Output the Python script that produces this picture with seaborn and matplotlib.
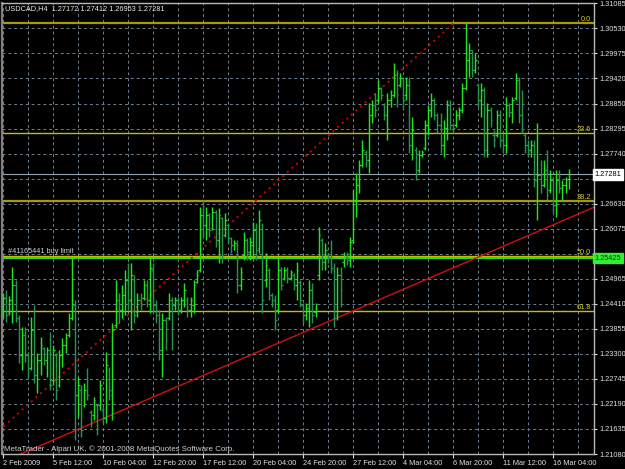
import matplotlib
matplotlib.use("Agg")
import matplotlib.pyplot as plt
import matplotlib.transforms as mtransforms
import numpy as np
import pandas as pd
import seaborn as sns

title_text = "USDCAD,H4  1.27172 1.27412 1.26953 1.27281"
footer_text = "MetaTrader - Alpari UK, \u00a9 2001-2008 MetaQuotes Software Corp."

opens = [
    1.2428, 1.2454, 1.2421, 1.2450, 1.2483, 1.2410, 1.2328, 1.2372, 1.2328, 1.2299,
    1.2383, 1.2283, 1.2317, 1.2343, 1.2317, 1.2339, 1.2272, 1.2328, 1.2261, 1.2328,
    1.2350, 1.2372, 1.2410, 1.2439, 1.2239, 1.2250, 1.2217, 1.2250, 1.2201, 1.2195,
    1.2217, 1.2217, 1.2206, 1.2188, 1.2294, 1.2239, 1.2394, 1.2450, 1.2428, 1.2461,
    1.2494, 1.2450, 1.2494, 1.2423, 1.2450, 1.2454, 1.2483, 1.2450, 1.2516, 1.2439,
    1.2416, 1.2339, 1.2405, 1.2410, 1.2450, 1.2439, 1.2450, 1.2428, 1.2450, 1.2450,
    1.2428, 1.2439, 1.2490, 1.2516, 1.2638, 1.2616, 1.2638, 1.2609, 1.2645, 1.2583,
    1.2632, 1.2594, 1.2616, 1.2587, 1.2572, 1.2572, 1.2483, 1.2550, 1.2583, 1.2556,
    1.2572, 1.2605, 1.2565, 1.2616, 1.2494, 1.2516, 1.2461, 1.2450, 1.2428, 1.2516,
    1.2499, 1.2516, 1.2499, 1.2505, 1.2483, 1.2490, 1.2439, 1.2416, 1.2428, 1.2472,
    1.2423, 1.2505, 1.2583, 1.2534, 1.2550, 1.2543, 1.2516, 1.2416, 1.2505, 1.2534,
    1.2545, 1.2538, 1.2583, 1.2672, 1.2705, 1.2749, 1.2778, 1.2760, 1.2860, 1.2882,
    1.2893, 1.2920, 1.2882, 1.2860, 1.2893, 1.2904, 1.2949, 1.2927, 1.2942, 1.2904,
    1.2927, 1.2794, 1.2782, 1.2738, 1.2771, 1.2787, 1.2838, 1.2871, 1.2893, 1.2860,
    1.2838, 1.2794, 1.2831, 1.2882, 1.2838, 1.2838, 1.2860, 1.2871, 1.2920, 1.2982,
    1.3004, 1.2960, 1.2927, 1.2893, 1.2916, 1.2782, 1.2871, 1.2816, 1.2816, 1.2860,
    1.2805, 1.2794, 1.2882, 1.2867, 1.2898, 1.2938, 1.2860, 1.2816, 1.2794, 1.2782,
    1.2794, 1.2716, 1.2727, 1.2705, 1.2738, 1.2694, 1.2716, 1.2660, 1.2716, 1.2698,
    1.2705, 1.27172,
]
highs = [
    1.2465, 1.2472, 1.2459, 1.2523, 1.2494, 1.2416, 1.2390, 1.2390, 1.2334, 1.2412,
    1.2439, 1.2332, 1.2368, 1.2345, 1.2345, 1.2379, 1.2350, 1.2332, 1.2339, 1.2365,
    1.2376, 1.2421, 1.2545, 1.2450, 1.2279, 1.2261, 1.2266, 1.2299, 1.2206, 1.2234,
    1.2221, 1.2272, 1.2212, 1.2334, 1.2301, 1.2399, 1.2494, 1.2465, 1.2483, 1.2516,
    1.2532, 1.2532, 1.2505, 1.2465, 1.2465, 1.2494, 1.2494, 1.2545, 1.2532, 1.2450,
    1.2428, 1.2421, 1.2412, 1.2465, 1.2456, 1.2456, 1.2456, 1.2456, 1.2487, 1.2456,
    1.2456, 1.2494, 1.2516, 1.2656, 1.2672, 1.2656, 1.2643, 1.2656, 1.2649, 1.2654,
    1.2634, 1.2643, 1.2620, 1.2589, 1.2583, 1.2583, 1.2523, 1.2601, 1.2587, 1.2589,
    1.2623, 1.2620, 1.2649, 1.2620, 1.2554, 1.2521, 1.2465, 1.2461, 1.2545, 1.2523,
    1.2523, 1.2523, 1.2516, 1.2510, 1.2534, 1.2494, 1.2443, 1.2443, 1.2494, 1.2487,
    1.2443, 1.2612, 1.2587, 1.2576, 1.2554, 1.2583, 1.2532, 1.2523, 1.2523, 1.2556,
    1.2556, 1.2589, 1.2694, 1.2731, 1.2760, 1.2805, 1.2782, 1.2887, 1.2893, 1.2909,
    1.2938, 1.2922, 1.2887, 1.2909, 1.2916, 1.2975, 1.2960, 1.2953, 1.2944, 1.2944,
    1.2944, 1.2856, 1.2789, 1.2782, 1.2782, 1.2849, 1.2882, 1.2909, 1.2898, 1.2865,
    1.2865, 1.2849, 1.2893, 1.2893, 1.2842, 1.2871, 1.2878, 1.2931, 1.3064, 1.3020,
    1.3004, 1.2998, 1.2931, 1.2931, 1.2922, 1.2887, 1.2878, 1.2827, 1.2871, 1.2871,
    1.2820, 1.2900, 1.2887, 1.2900, 1.2953, 1.2944, 1.2916, 1.2820, 1.2805, 1.2805,
    1.2805, 1.2842, 1.2760, 1.2760, 1.2782, 1.2738, 1.2723, 1.2738, 1.2738, 1.2716,
    1.2723, 1.27412,
]
lows = [
    1.2410, 1.2401, 1.2416, 1.2399, 1.2401, 1.2310, 1.2294, 1.2312, 1.2277, 1.2294,
    1.2266, 1.2243, 1.2283, 1.2306, 1.2279, 1.2250, 1.2261, 1.2228, 1.2257, 1.2301,
    1.2332, 1.2368, 1.2405, 1.2139, 1.2190, 1.2146, 1.2212, 1.2228, 1.2168, 1.2183,
    1.2150, 1.2206, 1.2177, 1.2177, 1.2228, 1.2183, 1.2388, 1.2399, 1.2410, 1.2416,
    1.2428, 1.2383, 1.2399, 1.2412, 1.2428, 1.2450, 1.2434, 1.2421, 1.2421, 1.2399,
    1.2317, 1.2279, 1.2339, 1.2405, 1.2339, 1.2428, 1.2416, 1.2421, 1.2434, 1.2412,
    1.2412, 1.2421, 1.2487, 1.2512, 1.2589, 1.2583, 1.2589, 1.2605, 1.2567, 1.2532,
    1.2532, 1.2589, 1.2576, 1.2554, 1.2561, 1.2465, 1.2472, 1.2538, 1.2538, 1.2538,
    1.2545, 1.2538, 1.2554, 1.2421, 1.2479, 1.2450, 1.2434, 1.2383, 1.2421, 1.2472,
    1.2494, 1.2487, 1.2494, 1.2472, 1.2450, 1.2434, 1.2399, 1.2405, 1.2390, 1.2399,
    1.2412, 1.2494, 1.2516, 1.2516, 1.2532, 1.2510, 1.2390, 1.2405, 1.2434, 1.2523,
    1.2527, 1.2523, 1.2576, 1.2634, 1.2687, 1.2745, 1.2745, 1.2731, 1.2842, 1.2856,
    1.2887, 1.2893, 1.2849, 1.2805, 1.2878, 1.2900, 1.2878, 1.2922, 1.2871, 1.2893,
    1.2776, 1.2760, 1.2716, 1.2731, 1.2767, 1.2782, 1.2816, 1.2856, 1.2849, 1.2820,
    1.2776, 1.2767, 1.2805, 1.2827, 1.2820, 1.2833, 1.2849, 1.2865, 1.2916, 1.2944,
    1.2944, 1.2953, 1.2878, 1.2856, 1.2767, 1.2767, 1.2833, 1.2789, 1.2811, 1.2789,
    1.2776, 1.2776, 1.2856, 1.2842, 1.2893, 1.2842, 1.2820, 1.2776, 1.2767, 1.2767,
    1.2700, 1.2627, 1.2687, 1.2700, 1.2672, 1.2687, 1.2643, 1.2634, 1.2687, 1.2672,
    1.2687, 1.26953,
]
closes = [
    1.2454, 1.2416, 1.2450, 1.2483, 1.2410, 1.2328, 1.2372, 1.2328, 1.2299, 1.2383,
    1.2283, 1.2317, 1.2350, 1.2317, 1.2339, 1.2261, 1.2339, 1.2250, 1.2328, 1.2350,
    1.2365, 1.2410, 1.2450, 1.2239, 1.2261, 1.2161, 1.2250, 1.2239, 1.2183, 1.2228,
    1.2172, 1.2261, 1.2188, 1.2306, 1.2250, 1.2383, 1.2450, 1.2428, 1.2461, 1.2494,
    1.2450, 1.2505, 1.2416, 1.2450, 1.2439, 1.2483, 1.2450, 1.2521, 1.2439, 1.2416,
    1.2339, 1.2405, 1.2361, 1.2450, 1.2439, 1.2450, 1.2428, 1.2450, 1.2472, 1.2428,
    1.2450, 1.2483, 1.2505, 1.2638, 1.2616, 1.2638, 1.2605, 1.2645, 1.2583, 1.2638,
    1.2550, 1.2627, 1.2587, 1.2572, 1.2576, 1.2483, 1.2512, 1.2583, 1.2556, 1.2578,
    1.2605, 1.2561, 1.2627, 1.2450, 1.2527, 1.2461, 1.2450, 1.2405, 1.2516, 1.2483,
    1.2516, 1.2499, 1.2512, 1.2483, 1.2516, 1.2450, 1.2416, 1.2432, 1.2472, 1.2416,
    1.2432, 1.2594, 1.2534, 1.2561, 1.2543, 1.2521, 1.2410, 1.2505, 1.2472, 1.2545,
    1.2543, 1.2578, 1.2672, 1.2705, 1.2749, 1.2782, 1.2760, 1.2860, 1.2882, 1.2871,
    1.2920, 1.2904, 1.2860, 1.2893, 1.2904, 1.2949, 1.2904, 1.2942, 1.2893, 1.2927,
    1.2794, 1.2827, 1.2738, 1.2771, 1.2778, 1.2838, 1.2871, 1.2893, 1.2860, 1.2838,
    1.2794, 1.2831, 1.2882, 1.2838, 1.2831, 1.2860, 1.2871, 1.2920, 1.2982, 1.3004,
    1.2960, 1.2982, 1.2893, 1.2916, 1.2782, 1.2871, 1.2849, 1.2805, 1.2860, 1.2805,
    1.2794, 1.2882, 1.2867, 1.2893, 1.2938, 1.2860, 1.2827, 1.2794, 1.2782, 1.2794,
    1.2716, 1.2727, 1.2705, 1.2738, 1.2683, 1.2716, 1.2660, 1.2716, 1.2698, 1.2705,
    1.2716, 1.27281,
]

x_tick_labels = ["2 Feb 2009", "5 Feb 12:00", "10 Feb 04:00", "12 Feb 20:00",
                 "17 Feb 12:00", "20 Feb 04:00", "24 Feb 20:00", "27 Feb 12:00",
                 "4 Mar 04:00", "6 Mar 20:00", "11 Mar 12:00", "16 Mar 04:00"]
x_tick_bars = [0, 16, 32, 48, 64, 80, 96, 112, 128, 144, 160, 176]
x_grid_bars = [8, 24, 40, 56, 72, 88, 104, 120, 136, 152, 168, 184]
y_ticks = [1.21080, 1.21635, 1.22190, 1.22745, 1.23300, 1.23855, 1.24410,
           1.24965, 1.25520, 1.26075, 1.26630, 1.27185, 1.27740, 1.28295,
           1.28850, 1.29420, 1.29975, 1.30530, 1.31085]
y_hidden_labels = [1.25520, 1.27185]   # covered by the price boxes

fib_high = 1.3064
fib_low = 1.2031
fib_levels = [0.0, 23.6, 38.2, 50.0, 61.8]
fib_line_bars = [-22, 144.3]
trend_bars = [5, 190]
trend_prices = [1.2106, 1.2658]
buy_limit_price = 1.25425
buy_limit_label = "#41165441 buy limit"
bid_price = 1.27281

# ---------------------------------------------------------------
sns.set_theme(style="dark")
plt.rcParams["font.family"] = ["Liberation Sans", "DejaVu Sans"]

W, H = 625, 469
fig = plt.figure(figsize=(W / 100, H / 100), dpi=100, facecolor="black")
ax = fig.add_axes([2 / W, 1 - 454 / H, 592 / W, 451 / H])
ax.set_facecolor("black")

df = pd.DataFrame({"open": opens, "high": highs, "low": lows, "close": closes})
df["bar"] = np.arange(len(df))
up = df["close"] >= df["open"]
col_up, col_dn = "#22e022", "#2a9050"
colors = np.where(up, col_up, col_dn)

ax.set_xlim(-0.32, 189.12)
ax.set_ylim(y_ticks[0], y_ticks[-1])

# grid
grid_kw = dict(color="#6f7f8f", lw=0.7, linestyle=(0, (3, 3)), zorder=0)
for yv in y_ticks:
    ax.axhline(yv, **grid_kw)
for xv in x_tick_bars + x_grid_bars:
    ax.axvline(xv, **grid_kw)

# fibonacci
fib_prices = [fib_high - lv / 100 * (fib_high - fib_low) for lv in fib_levels]
blend = mtransforms.blended_transform_factory(ax.transAxes, ax.transData)
for lv, pr in zip(fib_levels, fib_prices):
    lw = 1.6 if lv in (0.0, 38.2) else 1.0
    colr = "#a89a00" if lv in (0.0, 38.2) else "#c8bc00"
    ax.axhline(pr, color=colr, lw=lw, zorder=1)
    ax.text(0.9955, pr, f"{lv:.1f}", transform=blend, ha="right", va="bottom",
            color="#d8d000", fontsize=5.3, zorder=6)

# bid line and buy limit line
ax.axhline(bid_price, color="#9aa4b0", lw=0.8, zorder=1)
ax.axhline(buy_limit_price, color="#22e022", lw=1.5, zorder=1)
ax.text(6 / 592, buy_limit_price + 0.0006, buy_limit_label, transform=blend,
        ha="left", va="bottom", color="#d0d0d0", fontsize=5.3, zorder=6)

# trend lines
sns.lineplot(x=fib_line_bars, y=[fib_low, fib_high], ax=ax, color="#d00000",
             lw=1.3, linestyle=(0, (1.2, 2.2)), zorder=2)
sns.lineplot(x=trend_bars, y=trend_prices, ax=ax, color="#d01010", lw=1.0, zorder=2)

# OHLC bars
ax.vlines(df["bar"], df["low"], df["high"], colors=colors, lw=1.05, zorder=3)
ax.hlines(df["open"], df["bar"] - 0.55, df["bar"], colors=colors, lw=0.9, zorder=3)
ax.hlines(df["close"], df["bar"], df["bar"] + 0.55, colors=colors, lw=0.9, zorder=3)

# axes styling
for s in ax.spines.values():
    s.set_color("#b8b8b8")
    s.set_linewidth(1.0)
ax.spines["left"].set_color("#808080")
ax.spines["left"].set_linewidth(1.6)

ax.yaxis.tick_right()
ax.set_yticks(y_ticks)
ax.set_yticklabels(["" if v in y_hidden_labels else f"{v:.5f}" for v in y_ticks])
ax.tick_params(axis="y", colors="#e0e0e0", labelsize=5.3, length=2.5, width=0.8,
               pad=1.5, direction="out", right=True, left=False)
ax.set_xticks(x_tick_bars)
ax.set_xticklabels(x_tick_labels, ha="left")
ax.tick_params(axis="x", colors="#e0e0e0", labelsize=5.3, length=3, width=0.8,
               pad=1.2, direction="out", bottom=True)
ax.set_xlabel("")
ax.set_ylabel("")
ax.grid(False)
if ax.get_legend() is not None:
    ax.get_legend().remove()

# price labels on the right axis
ax.text(1.0015, bid_price, f"{bid_price:.5f}", transform=blend, ha="left", va="center",
        color="black", fontsize=5.3, zorder=10, clip_on=False,
        bbox=dict(boxstyle="square,pad=0.25", fc="white", ec="white"))
ax.text(1.0015, buy_limit_price, f"{buy_limit_price:.5f}", transform=blend, ha="left",
        va="center", color="#0a3a0a", fontsize=5.3, zorder=10, clip_on=False,
        bbox=dict(boxstyle="square,pad=0.25", fc="#33ee33", ec="#33ee33"))

fig.text(5 / W, 1 - 9 / H, title_text, color="#e8e8e8", fontsize=5.3, va="center", ha="left")
fig.text(4 / W, 1 - 449 / H, footer_text, color="#d0d0d0", fontsize=5.7, va="center", ha="left")

fig.savefig("out.png", dpi=100, facecolor="black")
